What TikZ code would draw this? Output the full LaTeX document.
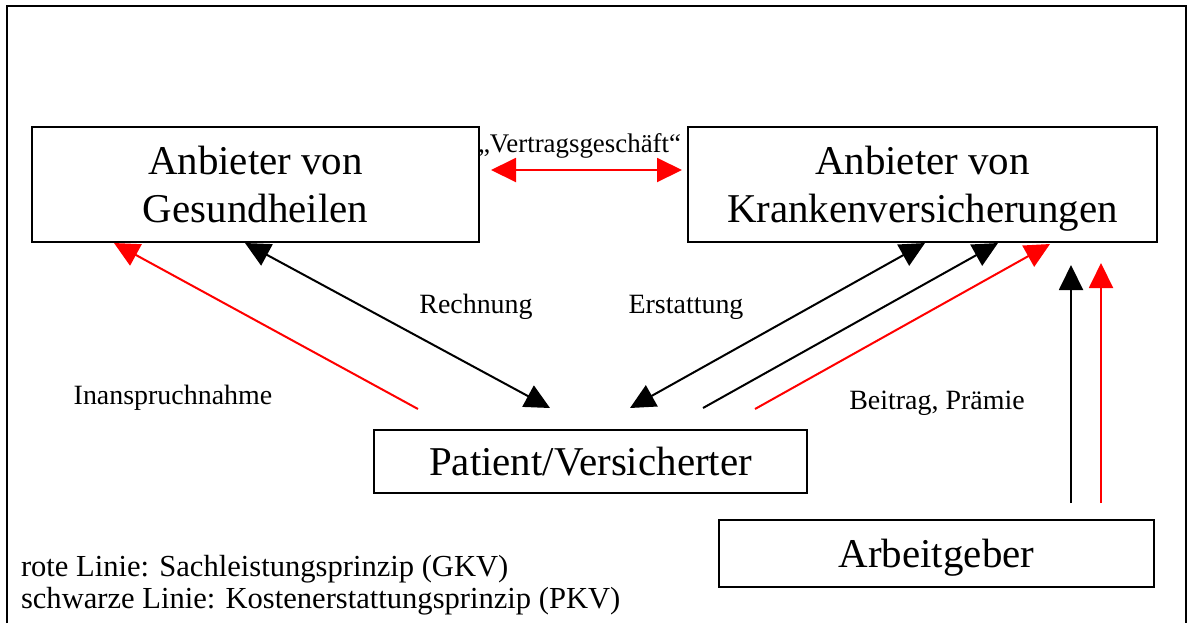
\documentclass[tikz,border=0pt]{standalone}
\usepackage{fontspec}
\setmainfont{Liberation Serif}
\usetikzlibrary{arrows.meta}

\begin{document}
\begin{tikzpicture}[x=0.02cm, y=-0.02cm, line width=0.04cm,
  >={Triangle[length=0.5cm, width=0.48cm]},
  box/.style={draw, rectangle, align=center, inner sep=0pt,
    font=\fontsize{23.3}{27.3}\selectfont},
  lbl/.style={inner sep=0pt, font=\fontsize{15.9}{19}\selectfont},
  legend/.style={inner sep=0pt, anchor=base west, font=\fontsize{17.4}{20}\selectfont}]

\useasboundingbox (0,0) rectangle (1189,623);
\draw (7,623) -- (7,6) -- (1186,6) -- (1186,623);

\node[box, minimum width=447*0.02cm, minimum height=115*0.02cm] (gesund) at (255.5,184.5) {Anbieter von\\Gesundheilen};
\node[box, minimum width=469*0.02cm, minimum height=115*0.02cm] (kranken) at (922.5,184.5) {Anbieter von\\\raisebox{0pt}[\height][0pt]{Krankenversicherungen}};
\node[box, minimum width=433*0.02cm, minimum height=63*0.02cm] (patient) at (590.5,461.5) {Patient/Versicherter};
\node[box, minimum width=435*0.02cm, minimum height=67*0.02cm] (arbeit) at (936.5,553.5) {\rule{0pt}{0.9em}Arbeitgeber};

% Vertrag zwischen den Anbietern
\draw[red, <->] ([shift={(11,-14.5)}]gesund.east) -- node[above=0.22cm, xshift=-0.14cm, lbl, font=\fontsize{15.3}{18}\selectfont, text=black] (vertrag) {„Vertragsgeschäft“} ([shift={(-5,-14.5)}]kranken.west);

% Patient und Anbieter
\draw[red, ->] ([shift={(-172.5,-20)}]patient.north) -- ([shift={(-141.5,0)}]gesund.south);
\draw[<->] ([shift={(-10.5,0)}]gesund.south) -- ([shift={(-40.5,-21)}]patient.north);
\draw[<->] ([shift={(2.5,0)}]kranken.south) -- ([shift={(39.5,-21)}]patient.north);
\draw[->] ([shift={(112.5,-21)}]patient.north) -- ([shift={(75.5,0)}]kranken.south);
\draw[red, ->] ([shift={(164.5,-20)}]patient.north) -- ([shift={(127.5,1)}]kranken.south);

% Arbeitgeber
\draw[->] ([shift={(134.5,-16)}]arbeit.north) -- ([shift={(148.5,22)}]kranken.south);
\draw[red, ->] ([shift={(164.5,-16)}]arbeit.north) -- ([shift={(178.5,20)}]kranken.south);

\node[lbl] (rechnung) at (476,307) {Rechnung};
\node[lbl] (erstattung) at (686,307) {Erstattung};
\node[lbl] (inanspruch) at (173,398) {Inanspruchnahme};
\node[lbl] (beitrag) at (937,403) {Beitrag, Prämie};

\node[legend] (rot) at (20,576) {rote Linie: Sachleistungsprinzip (GKV)};
\node[legend] (schwarz) at (20,608) {schwarze Linie: Kostenerstattungsprinzip (PKV)};

\end{tikzpicture}
\end{document}
